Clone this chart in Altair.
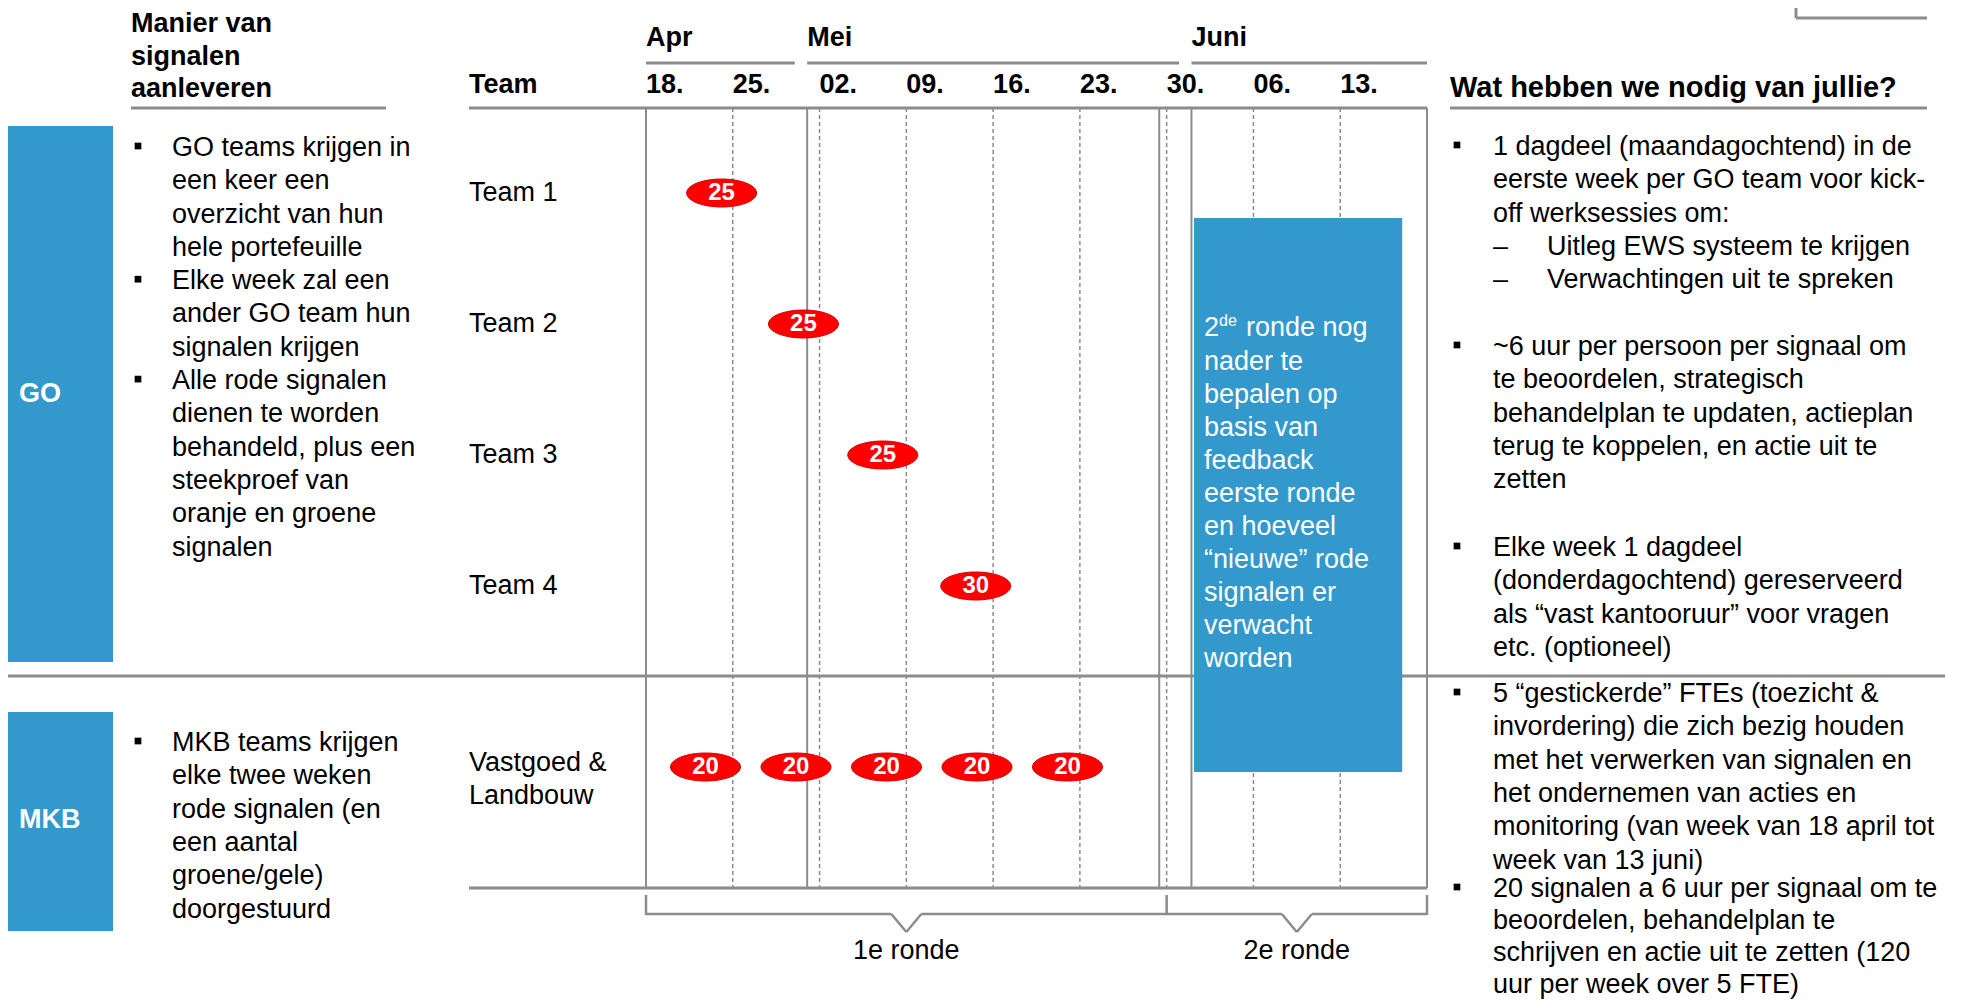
import altair as alt
import pandas as pd

# ---------------- data ----------------
week_starts = ["2016-04-18", "2016-04-25", "2016-05-02", "2016-05-09", "2016-05-16",
               "2016-05-23", "2016-05-30", "2016-06-06", "2016-06-13"]
months = ["Apr", "Mei", "Juni"]
month_starts = ["2016-04-18", "2016-05-01", "2016-06-01"]
timeline_end = "2016-06-20"
round1_close_day = 41.4          # double line just before "30."
go_teams = ["Team 1", "Team 2", "Team 3", "Team 4"]
go_signal_days = [6.1, 12.7, 19.1, 26.6]      # days after 18 April
go_signal_counts = [25, 25, 25, 30]
mkb_team = "Vastgoed & Landbouw"
mkb_team_lines = ["Vastgoed &", "Landbouw"]
mkb_signal_days = [4.8, 12.1, 19.4, 26.7, 34.0]
mkb_signal_counts = [20, 20, 20, 20, 20]
rounds = ["1e ronde", "2e ronde"]
round_starts = ["2016-04-18", "2016-05-30"]
round_ends = ["2016-05-30", "2016-06-20"]
round2_block_days = [44.2, 61.0]

left_header = ["Manier van", "signalen", "aanleveren"]
go_bullets = [
    ["GO teams krijgen in", "een keer een", "overzicht van hun", "hele portefeuille"],
    ["Elke week zal een", "ander GO team hun", "signalen krijgen"],
    ["Alle rode signalen", "dienen te worden", "behandeld, plus een", "steekproef van",
     "oranje en groene", "signalen"],
]
mkb_bullets = [
    ["MKB teams krijgen", "elke twee weken", "rode signalen (en", "een aantal",
     "groene/gele)", "doorgestuurd"],
]
round2_note_first = ["2", "de", "ronde nog"]
round2_note_rest = ["nader te", "bepalen op", "basis van", "feedback", "eerste ronde",
                    "en hoeveel", "\u201cnieuwe\u201d rode", "signalen er", "verwacht", "worden"]
right_header = "Wat hebben we nodig van jullie?"
right_bullet_1 = ["1 dagdeel (maandagochtend) in de", "eerste week per GO team voor kick-",
                  "off werksessies om:"]
right_sub_1 = ["Uitleg EWS systeem te krijgen", "Verwachtingen uit te spreken"]
right_bullet_2 = ["~6 uur per persoon per signaal om", "te beoordelen, strategisch",
                  "behandelplan te updaten, actieplan", "terug te koppelen, en actie uit te",
                  "zetten"]
right_bullet_3 = ["Elke week 1 dagdeel", "(donderdagochtend) gereserveerd",
                  "als \u201cvast kantooruur\u201d voor vragen", "etc. (optioneel)"]
right_bullet_4 = ["5 \u201cgestickerde\u201d FTEs (toezicht &", "invordering) die zich bezig houden",
                  "met het verwerken van signalen en", "het ondernemen van acties en",
                  "monitoring  (van week van 18 april tot", "week van 13 juni)"]
right_bullet_5 = ["20 signalen a 6 uur per signaal om te", "beoordelen, behandelplan te",
                  "schrijven en actie uit te zetten (120", "uur per week over 5 FTE)"]

# ---------------- styling / layout ----------------
FONT = "Liberation Sans, Arial, Helvetica, sans-serif"
GRAY = "#8C8C8C"
BLUE = "#3399CC"
RED = "#FF0000"
FS = 27
LH = 33.3
X0, X1 = 638, 1419               # pixel range of the timeline
TOP, BOTTOM = 100, 880

t0 = pd.Timestamp(week_starts[0])


def days(d):
    return float((pd.Timestamp(d) - t0).days)


end_day = days(timeline_end)
px_per_day = (X1 - X0) / end_day
x_scale = alt.Scale(domain=[0, end_day], range=[X0, X1])


def XD(field):
    return alt.X(f"{field}:Q", scale=x_scale, axis=None)


one = alt.Chart(pd.DataFrame({"k": [0]}))


def text_block(lines, x, y, size=FS, bold=False, color="black", lh=LH, align="left"):
    return one.mark_text(text=lines, align=align, baseline="middle", font=FONT, fontSize=size,
                         fontWeight="bold" if bold else "normal", color=color,
                         lineHeight=lh).encode(x=alt.value(x), y=alt.value(y))


def hrule(x1, x2, y, w=3, color=GRAY):
    return one.mark_rule(color=color, strokeWidth=w).encode(
        x=alt.value(x1), x2=alt.value(x2), y=alt.value(y))


def bullet(x, y):
    return one.mark_square(size=45, color="black", opacity=1).encode(
        x=alt.value(x), y=alt.value(y))


def rect(x1, x2, y1, y2, color=BLUE):
    return one.mark_rect(color=color).encode(
        x=alt.value(x1), x2=alt.value(x2), y=alt.value(y1), y2=alt.value(y2))


layers = []

# --- side blocks GO / MKB
layers.append(rect(0, 105, 118, 654))
layers.append(rect(0, 105, 704, 923))
layers.append(text_block(["GO"], 11, 386, bold=True, color="white"))
layers.append(text_block(["MKB"], 11, 812, bold=True, color="white"))

# --- grid of the timeline
week_df = pd.DataFrame({"d": [days(w) for w in week_starts],
                        "label": [pd.Timestamp(w).strftime("%d.") for w in week_starts]})
dashed_df = week_df[week_df["d"] > 0]
solid_df = pd.DataFrame({"d": [0.0, days(month_starts[1]), round1_close_day,
                               days(month_starts[2]), end_day]})
layers.append(alt.Chart(dashed_df).mark_rule(color=GRAY, strokeWidth=1.5, strokeDash=[4, 3]).encode(
    x=XD("d"), y=alt.value(TOP), y2=alt.value(BOTTOM)))
layers.append(alt.Chart(solid_df).mark_rule(color=GRAY, strokeWidth=2).encode(
    x=XD("d"), y=alt.value(TOP), y2=alt.value(BOTTOM)))

# month labels and underlines
m_start = [days(m) for m in month_starts]
m_end = [s - 1 for s in m_start[1:]] + [end_day]
month_df = pd.DataFrame({"month": months, "s": m_start, "e": m_end})
layers.append(alt.Chart(month_df).mark_rule(color=GRAY, strokeWidth=3).encode(
    x=XD("s"), x2="e:Q", y=alt.value(55)))
layers.append(alt.Chart(month_df).mark_text(align="left", baseline="middle", font=FONT, fontSize=FS,
                                            fontWeight="bold").encode(
    x=XD("s"), y=alt.value(30), text="month:N"))
layers.append(alt.Chart(week_df).mark_text(align="left", baseline="middle", font=FONT, fontSize=FS,
                                           fontWeight="bold").encode(
    x=XD("d"), y=alt.value(77), text="label:N"))

# header lines
layers.append(hrule(123, 378, TOP))
layers.append(hrule(461, X1, TOP))
layers.append(hrule(1442, 1919, TOP))
layers.append(hrule(461, X1, BOTTOM))
layers.append(hrule(0, 1937, 668))

# zwolle logo frame (bottom corner)
layers.append(one.mark_rule(color=GRAY, strokeWidth=3).encode(
    x=alt.value(1788), y=alt.value(0), y2=alt.value(10)))
layers.append(hrule(1788, 1919, 10))

# headers
layers.append(text_block(left_header, 123, 16, bold=True, lh=32.5))
layers.append(text_block(["Team"], 461, 77, bold=True))
layers.append(text_block([right_header], 1442, 80, size=29, bold=True))

# --- round 2 block
blk = pd.DataFrame({"a": [round2_block_days[0]], "b": [round2_block_days[1]]})
layers.append(alt.Chart(blk).mark_rect(color=BLUE).encode(
    x=XD("a"), x2="b:Q", y=alt.value(210), y2=alt.value(764)))
layers.append(text_block([round2_note_first[0]], 1196, 320, color="white"))
layers.append(text_block([round2_note_first[1]], 1211, 313, size=16, color="white"))
layers.append(text_block([round2_note_first[2]], 1238, 320, color="white"))
layers.append(text_block(round2_note_rest, 1196, 354, color="white", lh=33))

# --- brackets under the timeline
hw = 15 / px_per_day
r_s = [days(s) for s in round_starts]
r_e = [days(e) for e in round_ends]
r_c = [(s + e) / 2 for s, e in zip(r_s, r_e)]
ticks = pd.DataFrame({"d": sorted(set(r_s + r_e))})
layers.append(alt.Chart(ticks).mark_rule(color=GRAY, strokeWidth=2.5).encode(
    x=XD("d"), y=alt.value(887), y2=alt.value(907)))
segs = []
for s, e, c in zip(r_s, r_e, r_c):
    segs.append({"a": s, "b": c - hw})
    segs.append({"a": c + hw, "b": e})
layers.append(alt.Chart(pd.DataFrame(segs)).mark_rule(color=GRAY, strokeWidth=2.5).encode(
    x=XD("a"), x2="b:Q", y=alt.value(906)))
notch_l = pd.DataFrame({"a": [c - hw for c in r_c], "b": r_c})
notch_r = pd.DataFrame({"a": r_c, "b": [c + hw for c in r_c]})
layers.append(alt.Chart(notch_l).mark_rule(color=GRAY, strokeWidth=2.5).encode(
    x=XD("a"), x2="b:Q", y=alt.value(906), y2=alt.value(924)))
layers.append(alt.Chart(notch_r).mark_rule(color=GRAY, strokeWidth=2.5).encode(
    x=XD("a"), x2="b:Q", y=alt.value(924), y2=alt.value(906)))
round_df = pd.DataFrame({"r": rounds, "c": r_c})
layers.append(alt.Chart(round_df).mark_text(align="center", baseline="middle", font=FONT,
                                            fontSize=FS).encode(
    x=XD("c"), y=alt.value(943), text="r:N"))

# --- left text column
y = 140
for b in go_bullets:
    layers.append(bullet(130, y - 2))
    layers.append(text_block(b, 164, y))
    y += LH * len(b)
layers.append(bullet(130, 733))
layers.append(text_block(mkb_bullets[0], 164, 735))

# --- right text column
RX, RB = 1485, 1449
layers.append(bullet(RB, 137))
layers.append(text_block(right_bullet_1 + ["\u2013", "\u2013"], RX, 139))
layers.append(text_block(right_sub_1, 1539, 139 + 3 * LH))
for lines, yy, lh in [(right_bullet_2, 339, LH), (right_bullet_3, 540, LH), (right_bullet_4, 686, LH),
                      (right_bullet_5, 881, 32)]:
    layers.append(bullet(RB, yy - 2))
    layers.append(text_block(lines, RX, yy, lh=lh))

# --- signals
ELLIPSE = "M -1 0 A 1 0.4 0 1 0 1 0 A 1 0.4 0 1 0 -1 0 Z"

go_df = pd.DataFrame({"team": go_teams, "d": go_signal_days, "n": go_signal_counts})
go_y = alt.Y("team:N", scale=alt.Scale(type="point", domain=go_teams, range=[185, 578], padding=0),
             axis=None)
go_layer = alt.layer(
    alt.Chart(go_df).mark_point(shape=ELLIPSE, size=4900, filled=True, fill=RED, stroke="#D80000",
                                strokeWidth=1, opacity=1).encode(x=XD("d"), y=go_y),
    alt.Chart(go_df).mark_text(font=FONT, fontSize=24, fontWeight="bold", color="white",
                               baseline="middle").encode(x=XD("d"), y=go_y, text="n:Q"),
    alt.Chart(pd.DataFrame({"team": go_teams})).mark_text(
        align="left", baseline="middle", font=FONT, fontSize=FS).encode(
        x=alt.value(461), y=go_y, text="team:N"),
)

mkb_df = pd.DataFrame({"team": [mkb_team] * len(mkb_signal_days), "d": mkb_signal_days,
                       "n": mkb_signal_counts})
mkb_y = alt.Y("team:N", scale=alt.Scale(type="point", domain=[mkb_team], range=[759, 759], padding=0),
              axis=None)
mkb_layer = alt.layer(
    alt.Chart(mkb_df).mark_point(shape=ELLIPSE, size=4900, filled=True, fill=RED, stroke="#D80000",
                                 strokeWidth=1, opacity=1).encode(x=XD("d"), y=mkb_y),
    alt.Chart(mkb_df).mark_text(font=FONT, fontSize=24, fontWeight="bold", color="white",
                                baseline="middle").encode(x=XD("d"), y=mkb_y, text="n:Q"),
    alt.Chart(pd.DataFrame({"team": [mkb_team]})).mark_text(
        text=mkb_team_lines, align="left", baseline="middle", font=FONT, fontSize=FS, lineHeight=33,
        dy=-4).encode(x=alt.value(461), y=mkb_y),
)

layers.append(go_layer)
layers.append(mkb_layer)

chart = alt.layer(*layers).resolve_scale(y="independent").properties(
    width=1956, height=991, padding=0, autosize=alt.AutoSizeParams(type="none")
).configure_view(stroke=None)

chart.save("out.html", embed_options={"renderer": "svg", "actions": False})
